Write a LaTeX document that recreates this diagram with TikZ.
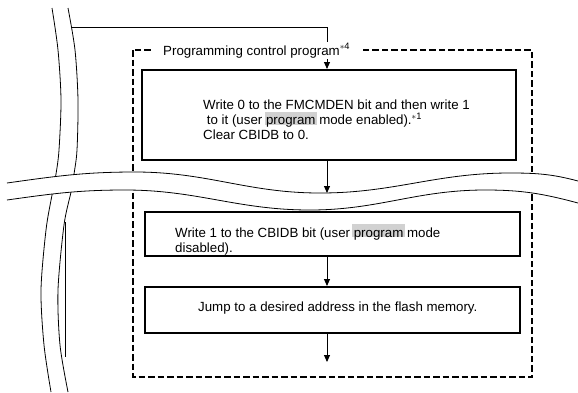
\documentclass[tikz,border=0pt]{standalone}
\usepackage{fontspec}
\setmainfont{Liberation Sans}
\usetikzlibrary{arrows.meta}

\definecolor{hlgray}{gray}{0.82}
\newcommand{\diagfont}{\fontsize{13.3}{15}\selectfont}
\newcommand{\hlword}[1]{\hspace{-1.5pt}{\setlength{\fboxsep}{0pt}%
  \colorbox{hlgray}{\hspace{1.5pt}\rule{0pt}{0.98em}\raisebox{0pt}[\height][0pt]{#1}\hspace{1.5pt}}}\hspace{-1.5pt}}
\newcommand{\astnote}[1]{\textsuperscript{$\ast$#1}}

\begin{document}
\begin{tikzpicture}[x=1pt, y=-1pt,
  procbox/.style={draw, line width=2pt, minimum width=375pt},
  boxtext/.style={anchor=north west, inner sep=0pt, align=left, font=\diagfont},
  flowline/.style={line width=0.9pt, -{Triangle[length=7pt,width=6pt]}},
  thinline/.style={line width=0.9pt},
  breakline/.style={line width=0.8pt},
  ctrlframe/.style={line width=1.5pt, dash pattern=on 6.5pt off 3pt},
]
\useasboundingbox (0,0) rectangle (578,392);

% left break (flow coming down the side)
\draw[breakline] plot[smooth] coordinates {(52,8) (58,50) (61,100) (59,150) (56,174)
  (52,195) (46,230) (41,290) (44,345) (51,392)};
\draw[breakline] plot[smooth] coordinates {(68,8) (75,50) (78,100) (77,150) (74,174)
  (71,192) (64,225) (58,290) (60,345) (68,392)};

% control program frame
\draw[ctrlframe] (133,50) rectangle (532,377);

% horizontal break
\fill[white] (7,183) to[out=8,in=180] (135,172) to[out=0,in=180] (320,193)
  to[out=0,in=180] (510,173) to[out=0,in=165] (578,181)
  -- (578,203) to[out=165,in=0] (485,190) to[out=180,in=0] (310,210)
  to[out=180,in=0] (125,190) to[out=180,in=8] (7,200) -- cycle;
\draw[breakline] (7,183) to[out=8,in=180] (135,172) to[out=0,in=180] (320,193)
  to[out=0,in=180] (510,173) to[out=0,in=165] (578,181);
\draw[breakline] (7,200) to[out=8,in=180] (125,190) to[out=0,in=180] (310,210)
  to[out=0,in=180] (485,190) to[out=0,in=165] (578,203);

% steps
\node[procbox, minimum width=374pt, minimum height=90pt] (box1) at (329,115) {};
\node[boxtext] (txt1) at (203,100) {Write 0 to the FMCMDEN bit and then write 1\\
  \hspace*{0.28em}to it (user \hlword{program} mode enabled).\astnote{1}\\
  Clear CBIDB to 0.};
\node[procbox, minimum height=44pt] (box2) at (332.5,234) {};
\node[boxtext] (txt2) at (175,224) {Write 1 to the CBIDB bit (user \hlword{program} mode\\disabled).};
\node[procbox, minimum height=46pt] (box3) at (332.5,310) {};
\node[boxtext] (txt3) at (198,302) {Jump to a desired address in the flash memory.};

% connectors
\coordinate (col) at (327,0);
\coordinate (entry) at (72,27);
\coordinate (cut) at (327,193);
\coordinate (exit) at (327,362);
\coordinate (rettop) at (65,222);
\coordinate (retbot) at (65,357);
\draw[flowline] (entry) -| (box1.north -| col);
\draw[flowline] (box1.south -| col) -- (cut);
\draw[flowline] (box2.south -| col) -- (box3.north -| col);
\draw[flowline] (box3.south -| col) -- (exit);
\draw[thinline] (rettop) -- (retbot);

\node[fill=white, inner xsep=10pt, inner ysep=1pt, anchor=base west, font=\diagfont]
  (ctrl) at (153,55) {Programming control program\astnote{4}};
\end{tikzpicture}
\end{document}
